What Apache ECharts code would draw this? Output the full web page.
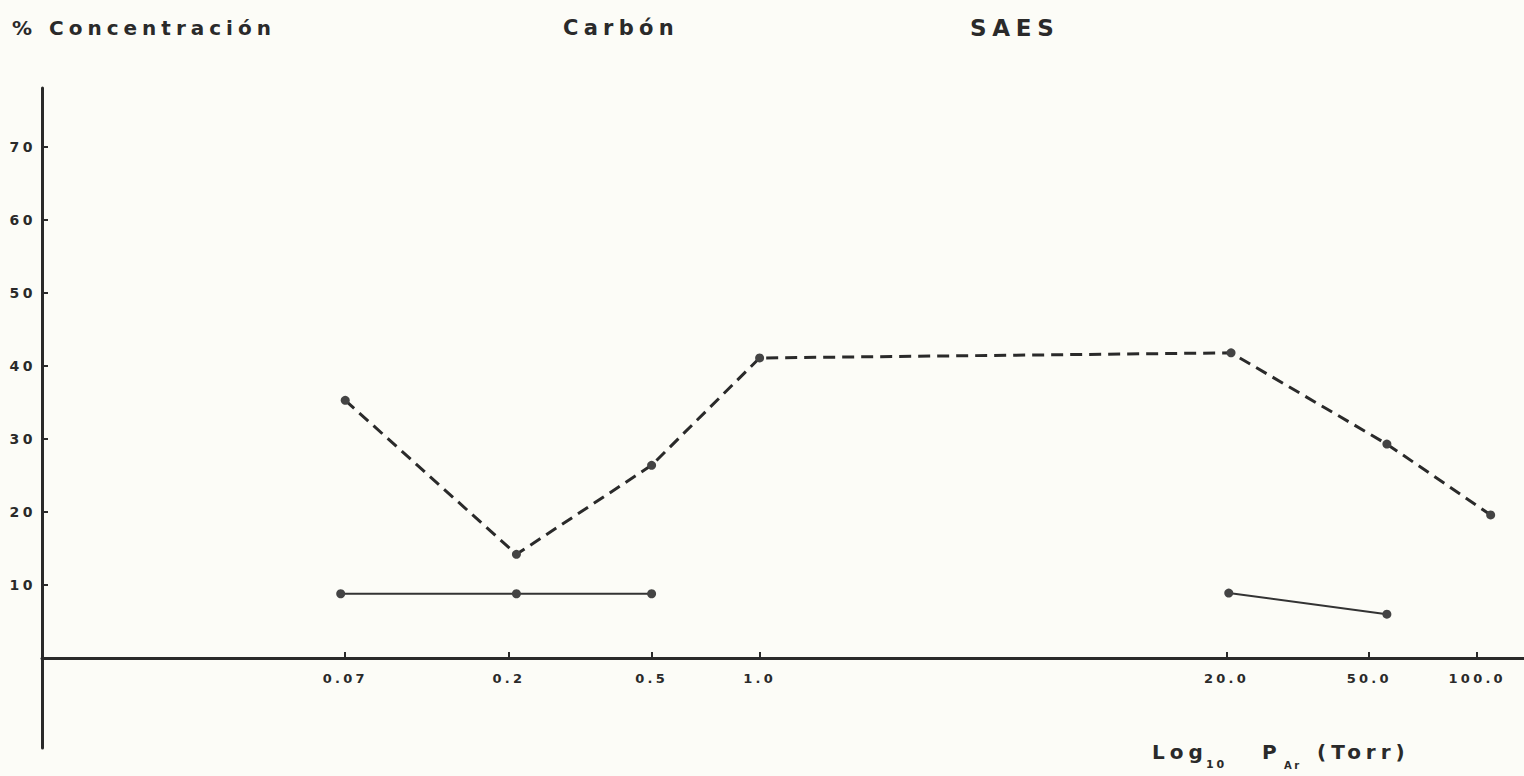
<!DOCTYPE html>
<html>
	<head>
		<meta charset="utf-8">
		<title>Carbon SAES</title>
		<style type="text/css">
			html,body {
				margin: 0;
				padding: 0;
				background: #fcfcf7;
			}
			#main {
				width: 1524px;
				height: 776px;
			}
			/* lettering look: spaced letters */
			#main text {
				letter-spacing: 0.25em;
			}
		</style>
	</head>
	<body>
		<div id="main"></div>
		<script src="https://cdn.jsdelivr.net/npm/echarts@6/dist/echarts.min.js" type="text/javascript" charset="utf-8"></script>
		<script type="text/javascript">
			// presion de argon (Torr) y % de concentracion
			var dashP = [0.07, 0.21, 0.5, 1.0, 20.6, 56, 109];
			var dashC = [35.3, 14.2, 26.4, 41.1, 41.8, 29.3, 19.6];
			var solidP1 = [0.068, 0.21, 0.5];
			var solidC1 = [8.8, 8.8, 8.8];
			var solidP2 = [20.3, 56];
			var solidC2 = [8.9, 6.0];
			// marcas de los ejes
			var tickP = [0.07, 0.2, 0.5, 1, 20, 50, 100];
			var tickText = ['0.07', '0.2', '0.5', '1.0', '20.0', '50.0', '100.0'];
			var yTicks = [10, 20, 30, 40, 50, 60, 70];

			var ink = '#2a2a2a';
			var font = 'DejaVu Sans';

			function pairs(xs, ys) {
				var out = [];
				for (var i = 0; i < xs.length; i++) {
					out.push([xs[i], ys[i]]);
				}
				return out;
			}

			function tickLabel(v) {
				for (var i = 0; i < tickP.length; i++) {
					if (Math.abs(Math.log(v) - Math.log(tickP[i])) < 1e-6) return tickText[i];
				}
				return '';
			}

			function txt(x, y, s, size) {
				return {
					type: 'text',
					x: x,
					y: y,
					silent: true,
					style: {
						text: s,
						fontFamily: font,
						fontWeight: 'bold',
						fontSize: size,
						fill: ink,
						align: 'left',
						verticalAlign: 'middle'
					}
				};
			}

			function lineSeries(xs, ys, style) {
				return {
					type: 'line',
					xAxisIndex: 0,
					yAxisIndex: 0,
					data: pairs(xs, ys),
					symbol: 'circle',
					symbolSize: 9,
					itemStyle: {color: '#444'},
					lineStyle: style
				};
			}

			var myChart = echarts.init(document.getElementById('main'), null, {renderer: 'svg'});
			var option = {
				backgroundColor: '#fcfcf7',
				animation: false,
				// grid 0: la grafica; grid 1: el eje vertical que sigue bajo el cero
				grid: [{
					left: 42,
					right: 0,
					top: 88,
					bottom: 118
				}, {
					left: 42,
					right: 0,
					top: 658,
					bottom: 28
				}],
				xAxis: [{
					gridIndex: 0,
					type: 'log',
					logBase: 10,
					min: 0.01,
					max: 135,
					axisLine: {
						onZero: false,
						lineStyle: {color: ink, width: 3}
					},
					axisTick: {
						customValues: tickP,
						inside: true,
						length: 6,
						lineStyle: {color: ink, width: 2}
					},
					axisLabel: {
						customValues: tickP,
						formatter: tickLabel,
						margin: 14,
						color: ink,
						fontFamily: font,
						fontWeight: 'bold',
						fontSize: 13
					},
					splitLine: {show: false},
					minorTick: {show: false}
				}, {
					gridIndex: 1,
					type: 'value',
					show: false
				}],
				yAxis: [{
					gridIndex: 0,
					type: 'value',
					min: 0,
					max: 78.08,
					axisLine: {
						show: true,
						onZero: false,
						lineStyle: {color: ink, width: 3}
					},
					axisTick: {
						show: true,
						customValues: yTicks,
						inside: true,
						length: 6,
						lineStyle: {color: ink, width: 2}
					},
					axisLabel: {
						customValues: yTicks,
						margin: 6,
						color: ink,
						fontFamily: font,
						fontWeight: 'bold',
						fontSize: 14
					},
					splitLine: {show: false}
				}, {
					gridIndex: 1,
					type: 'value',
					min: -12.33,
					max: 0,
					axisLine: {
						show: true,
						onZero: false,
						lineStyle: {color: ink, width: 3}
					},
					axisTick: {show: false},
					axisLabel: {show: false},
					splitLine: {show: false}
				}],
				series: [
					lineSeries(dashP, dashC, {color: ink, width: 3, type: [12, 7]}),
					lineSeries(solidP1, solidC1, {color: '#333', width: 2}),
					lineSeries(solidP2, solidC2, {color: '#333', width: 2})
				],
				graphic: [
					txt(12, 28, '% Concentración', 20),
					txt(563, 28, 'Carbón', 21),
					txt(970, 28, 'SAES', 23),
					txt(1152, 752, 'Log', 20),
					txt(1206, 764, '10', 11),
					txt(1262, 752, 'P', 20),
					txt(1284, 765, 'Ar', 10),
					txt(1317, 752, '(Torr)', 20)
				]
			};
			myChart.setOption(option, true);
		</script>
	</body>
</html>
